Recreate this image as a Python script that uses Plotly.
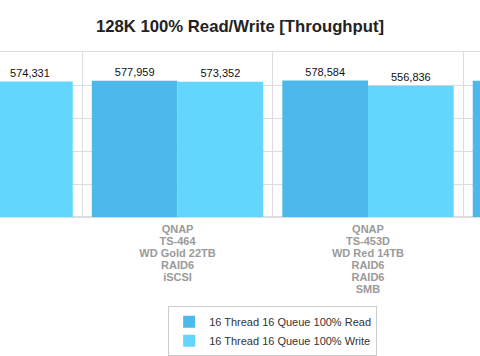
import plotly.graph_objects as go

categories = [
    "QNAP<br>TS-464<br>WD Gold 22TB<br>RAID6<br>SMB",
    "QNAP<br>TS-464<br>WD Gold 22TB<br>RAID6<br>iSCSI",
    "QNAP<br>TS-453D<br>WD Red 14TB<br>RAID6<br>RAID6<br>SMB",
    "QNAP<br>TS-453D<br>WD Red 14TB<br>RAID6<br>iSCSI",
]
read_values = [None, 577959, 578584, 578000]
write_values = [574331, 573352, 556836, None]
series_names = ["16 Thread 16 Queue 100% Read", "16 Thread 16 Queue 100% Write"]
title_text = "128K 100% Read/Write [Throughput]"

read_color = "#4db9ea"
write_color = "#63d6fe"
grid_color = "#dddddd"
font_family = "Liberation Sans, Arial, sans-serif"
label_line_gap = 12  # px between label lines

fig = go.Figure()
for name, vals, col in [(series_names[0], read_values, read_color),
                        (series_names[1], write_values, write_color)]:
    fig.add_trace(go.Bar(
        x=categories, y=vals, name=name,
        marker=dict(color=col, line=dict(width=0)),
        texttemplate="%{y:,}", textposition="outside",
        textfont=dict(family=font_family, size=11, color="#111111"),
        cliponaxis=True, hoverinfo="skip",
    ))

# category labels: one text row per label line, stacked under the baseline
split_labels = [c.split("<br>") for c in categories]
n_lines = max(len(s) for s in split_labels)
for k in range(n_lines):
    row = [s[k] if k < len(s) else "" for s in split_labels]
    # text offset below the anchor grows with the (invisible) marker radius
    r = 7.25 + label_line_gap * k
    size = 2 * (r - 1) * 0.8
    fig.add_trace(go.Scatter(
        x=categories, y=[0] * len(categories), mode="markers+text",
        marker=dict(size=size, opacity=0),
        text=row, textposition="bottom center",
        textfont=dict(family=font_family, size=11, color="#9a9a9a", weight="bold"),
        cliponaxis=False, showlegend=False, hoverinfo="skip",
    ))

fig.update_layout(
    width=480, height=356,
    margin=dict(l=0, r=0, t=52, b=139),
    paper_bgcolor="white", plot_bgcolor="white",
    barmode="group", bargap=0.1, bargroupgap=0,
    title=dict(text="<b>" + title_text + "</b>", x=0.5, xanchor="center",
               y=0.927, yanchor="middle", yref="container",
               font=dict(family=font_family, size=16.7, color="#222222")),
    showlegend=True,
    legend=dict(x=0.568, xanchor="center", y=0.14, yanchor="top", yref="container",
                bgcolor="white", bordercolor="#cccccc", borderwidth=1,
                font=dict(family=font_family, size=11, color="#333333"),
                itemwidth=30, tracegroupgap=0),
    xaxis=dict(type="category", range=[0.068, 2.588], showticklabels=False,
               showgrid=True, gridcolor=grid_color, tickson="boundaries", ticks="",
               showline=True, linecolor=grid_color, mirror=True, zeroline=False),
    yaxis=dict(range=[0, 700000], dtick=140000, showticklabels=False,
               showgrid=True, gridcolor=grid_color, zeroline=True,
               zerolinecolor=grid_color, showline=False),
    hovermode=False,
)

fig.write_html("out.html", config={"displayModeBar": False},
               post_script="document.body.style.margin='0';")
